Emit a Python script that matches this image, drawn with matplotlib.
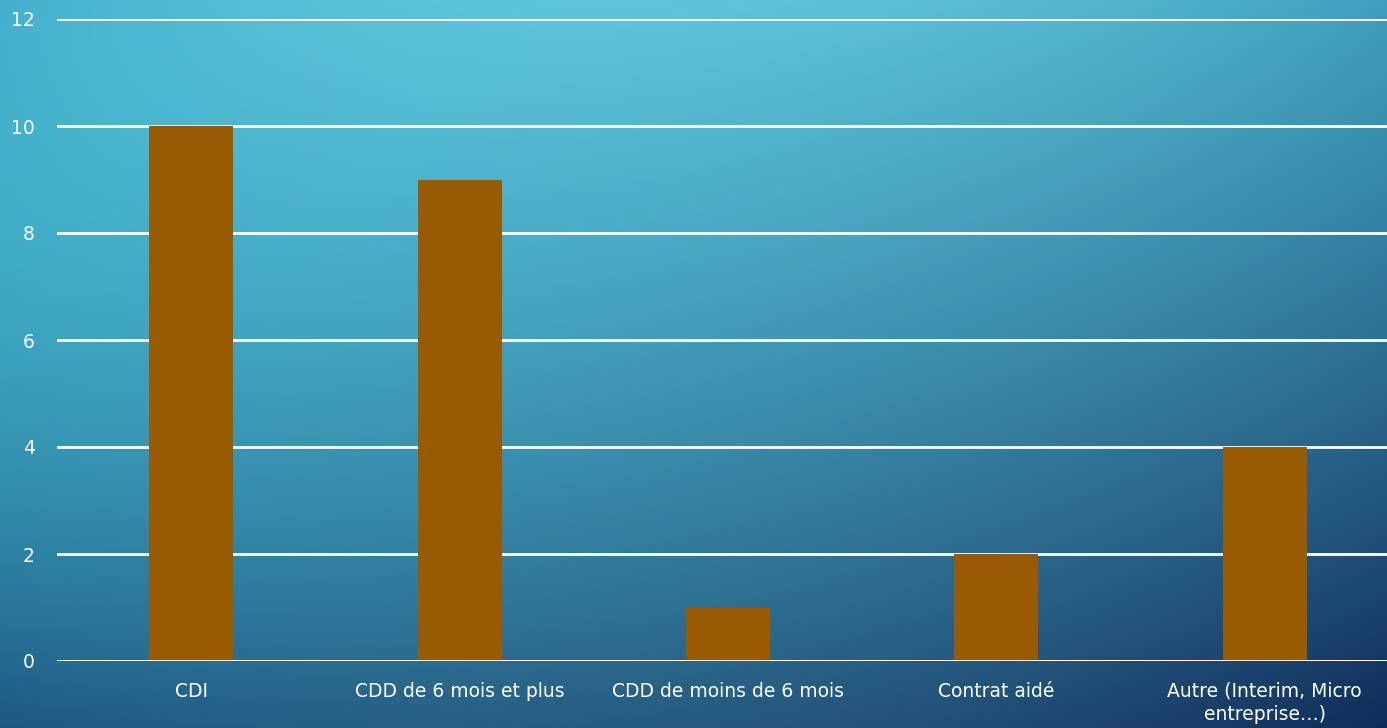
import numpy as np
import matplotlib
matplotlib.use("Agg")
import matplotlib.pyplot as plt

categories = ["CDI", "CDD de 6 mois et plus", "CDD de moins de 6 mois",
              "Contrat aidé", "Autre (Interim, Micro\nentreprise…)"]
values = [10, 9, 1, 2, 4]
yticks = [0, 2, 4, 6, 8, 10, 12]

plt.rcParams['font.family'] = ['DejaVu Sans']

W, H = 1387, 728
fig = plt.figure(figsize=(W / 100, H / 100), dpi=100)

# background gradient (approximation of slide background)
def hx(c):
    c = c.lstrip('#')
    return np.array([int(c[i:i + 2], 16) / 255 for i in (0, 2, 4)])

nodes = [
    [hx('#45b0cc'), hx('#5ec4d9'), hx('#3f9fbd')],
    [hx('#3aa0bc'), hx('#4097b5'), hx('#2b6c90')],
    [hx('#1d5882'), hx('#26597f'), hx('#0f2c58')],
]
u = np.linspace(0, 1, W)[None, :, None]
v = np.linspace(0, 1, H)[:, None, None]

def lag(t):
    return [2 * (t - 0.5) * (t - 1), -4 * t * (t - 1), 2 * t * (t - 0.5)]

Lu, Lv = lag(u), lag(v)
img = np.zeros((H, W, 3))
for i in range(3):
    for j in range(3):
        img += Lv[i] * Lu[j] * nodes[i][j]
img = np.clip(img, 0, 1)
bg = fig.add_axes([0, 0, 1, 1])
bg.imshow(img, extent=[0, 1, 0, 1], aspect='auto', origin='upper')
bg.set_axis_off()
bg.set_zorder(-10)

ax = fig.add_axes([57 / W, (H - 661) / H, (1399 - 57) / W, (661 - 19) / H])
ax.patch.set_alpha(0)
x = np.arange(len(categories))
ax.bar(x, values, width=0.313, color='#985a02', zorder=3)
ax.set_xlim(-0.5, len(categories) - 0.5)
ax.set_ylim(0, 12)
ax.set_yticks(yticks)
ax.set_yticklabels([str(v) for v in yticks])
ax.set_xticks(x)
ax.set_xticklabels(categories, linespacing=1.3)
ax.yaxis.grid(True, color='white', linewidth=2, zorder=1)
ax.set_axisbelow(True)
for s in ax.spines.values():
    s.set_visible(False)
ax.axhline(0, color='white', linewidth=2, zorder=4)
ax.tick_params(axis='y', length=0, pad=16, labelcolor='white', labelsize=13.5)
ax.tick_params(axis='x', length=0, pad=15, labelcolor='white', labelsize=13.5)

fig.savefig('out.png', dpi=100)
